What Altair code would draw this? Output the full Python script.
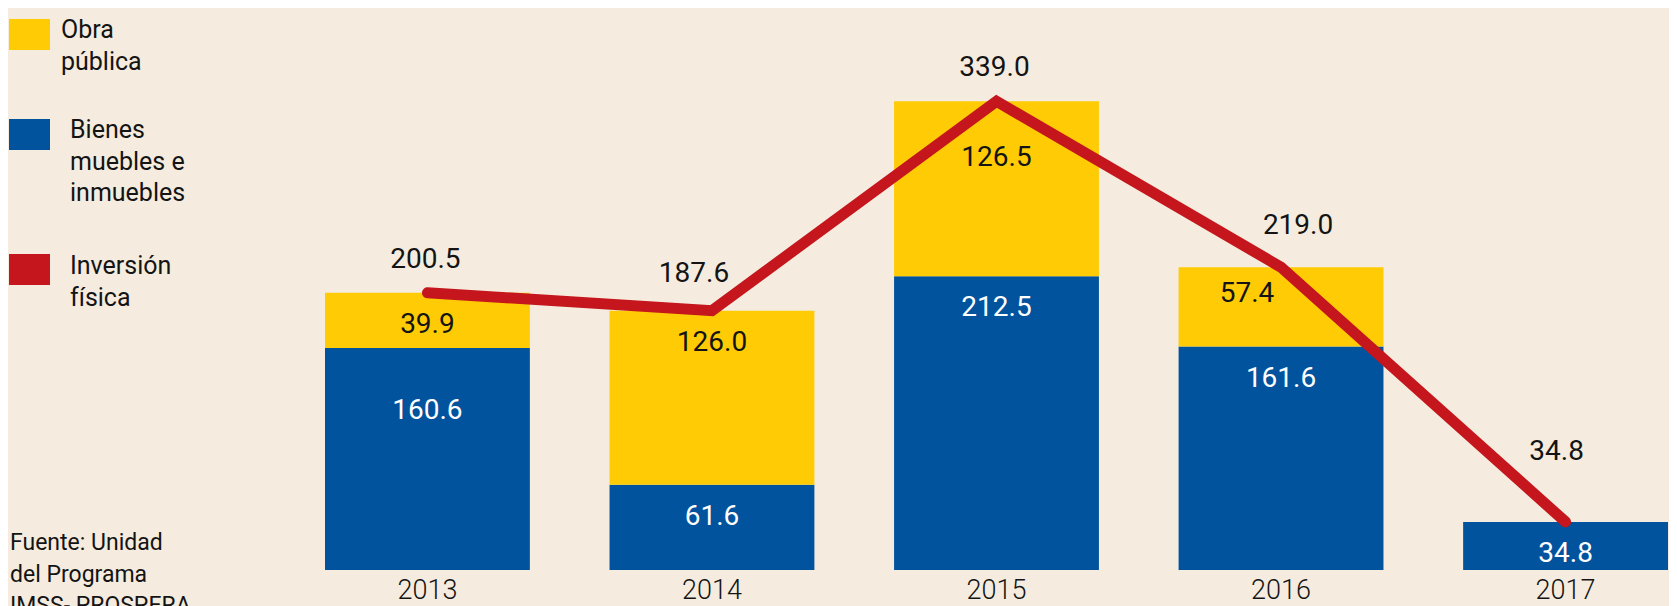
import altair as alt
import pandas as pd

# ---------------- data ----------------
years = ["2013", "2014", "2015", "2016", "2017"]
bienes = [160.6, 61.6, 212.5, 161.6, 34.8]          # Bienes muebles e inmuebles
obra = [39.9, 126.0, 126.5, 57.4, None]             # Obra pública
inversion = [200.5, 187.6, 339.0, 219.0, 34.8]      # Inversión física (total)

series = ["Bienes", "Obra"]
legend_labels = ["Obra\npública", "Bienes\nmuebles e\ninmuebles", "Inversión\nfísica"]
source_text = "Fuente: Unidad\ndel Programa\nIMSS- PROSPERA"

# ---------------- style ----------------
YELLOW = "#FFCB05"
BLUE = "#01539D"
RED = "#C4161C"
BG = "#F5ECDF"
INK = "#141414"
COND = "Roboto, 'Noto Sans', sans-serif"
SANS = "Roboto, 'Noto Sans', sans-serif"
LABEL_SIZE = 28
AXIS_SIZE = 27

# label placement nudges (pixels) to keep numbers clear of the line
seg_nudge = {("2013", "Bienes"): (0, 63), ("2015", "Obra"): (0, 57), ("2016", "Obra"): (-34, 27)}
tot_nudge = {"2014": (-18, -37), "2016": (17, -41), "2017": (-9, -70)}

rows = []
for i, yr in enumerate(years):
    rows.append({"year": yr, "serie": "Bienes", "orden": 0, "valor": bienes[i]})
    if obra[i] is not None:
        rows.append({"year": yr, "serie": "Obra", "orden": 1, "valor": obra[i]})
seg = pd.DataFrame(rows)
tot = pd.DataFrame({"year": years, "total": inversion})

xenc = alt.X(
    "year:N",
    sort=years,
    scale=alt.Scale(paddingInner=0.28, paddingOuter=0),
    axis=alt.Axis(
        title=None, domain=False, ticks=False, grid=False, labelAngle=0,
        labelFont=COND, labelFontSize=AXIS_SIZE, labelFontWeight=300, labelColor=INK,
        labelPadding=7,
    ),
)
yscale = alt.Scale(domain=[0, 400], nice=False, zero=True)
xs = alt.X("year:N", sort=years)

bars = alt.Chart(seg).mark_bar().encode(
    x=xenc,
    y=alt.Y("valor:Q", stack="zero", scale=yscale, axis=None),
    color=alt.Color("serie:N", scale=alt.Scale(domain=series, range=[BLUE, YELLOW]), legend=None),
    order=alt.Order("orden:Q", sort="ascending"),
)

seg_base = alt.Chart(seg).transform_stack(
    stack="valor", groupby=["year"], sort=[alt.SortField("orden")], as_=["v0", "v1"]
)


def seg_text(dx, dy):
    return seg_base.mark_text(
        font=COND, fontSize=LABEL_SIZE, baseline="middle", dx=dx, dy=dy
    ).encode(
        x=xs,
        y=alt.Y("v1:Q"),
        text=alt.Text("valor:Q", format=".1f"),
        color=alt.condition(alt.datum.serie == "Bienes", alt.value("#FFFFFF"), alt.value(INK)),
    )


default_filter = " && ".join(
    f"!(datum.year == '{y}' && datum.serie == '{s}')" for (y, s) in seg_nudge
)
seg_layers = [seg_text(0, 32).transform_filter(default_filter)]
for (y, s), (dx, dy) in seg_nudge.items():
    seg_layers.append(
        seg_text(dx, dy).transform_filter(f"datum.year == '{y}' && datum.serie == '{s}'")
    )

line = alt.Chart(tot).mark_line(
    color=RED, strokeWidth=11, strokeCap="round", strokeJoin="miter"
).encode(x=xs, y=alt.Y("total:Q"))


def tot_text(dx, dy):
    return alt.Chart(tot).mark_text(
        font=COND, fontSize=LABEL_SIZE, baseline="middle", dx=dx, dy=dy, color=INK
    ).encode(x=xs, y=alt.Y("total:Q"), text=alt.Text("total:Q", format=".1f"))


tot_layers = [
    tot_text(-2, -33).transform_filter(
        " && ".join(f"datum.year != '{y}'" for y in tot_nudge)
    )
]
for y, (dx, dy) in tot_nudge.items():
    tot_layers.append(tot_text(dx, dy).transform_filter(f"datum.year == '{y}'"))

# ---------------- manual legend & source ----------------
legend_colors = [YELLOW, BLUE, RED]
sq_tops = [2, 102, 237]
txt_x = [-264, -255, -255]
txt_base = [21, 121, 257]
legend_layers = []
for i, lab in enumerate(legend_labels):
    d = pd.DataFrame({"label": [lab]})
    legend_layers.append(
        alt.Chart(d).mark_rect(color=legend_colors[i]).encode(
            x=alt.value(-316), x2=alt.value(-275),
            y=alt.value(sq_tops[i]), y2=alt.value(sq_tops[i] + 31),
        )
    )
    legend_layers.append(
        alt.Chart(d).mark_text(
            align="left", baseline="alphabetic", lineBreak="\n", lineHeight=31.5,
            font=SANS, fontSize=25, color=INK,
        ).encode(x=alt.value(txt_x[i]), y=alt.value(txt_base[i]), text="label:N")
    )

source = alt.Chart(pd.DataFrame({"t": [source_text]})).mark_text(
    align="left", baseline="alphabetic", lineBreak="\n", lineHeight=31.7,
    font=SANS, fontSize=23, color=INK,
).encode(x=alt.value(-315), y=alt.value(533), text="t:N")

chart = alt.layer(
    bars, *seg_layers, line, *tot_layers, *legend_layers, source
).properties(
    width=1343,
    height=553,
    padding={"left": 317, "top": 9, "right": 1, "bottom": 36},
    autosize="none",
    background=BG,
).configure_view(stroke=None)

chart.save("out.html", embed_options={"renderer": "svg", "actions": False})
